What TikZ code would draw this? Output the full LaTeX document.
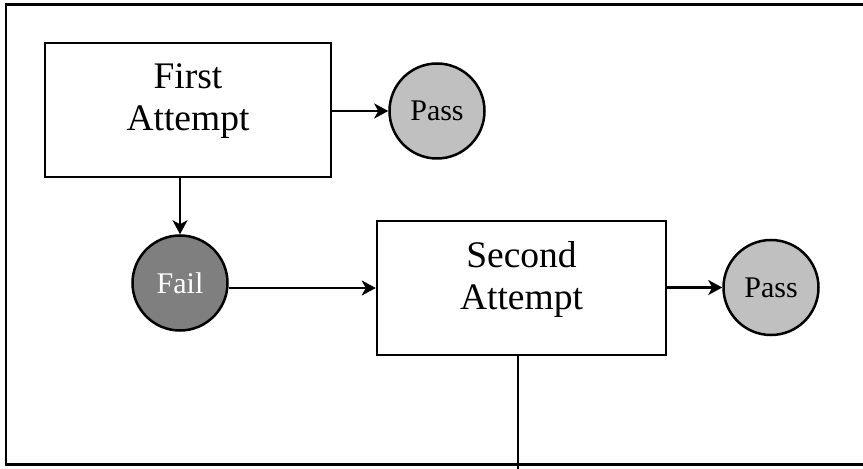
\documentclass[tikz,border=0pt]{standalone}
\usepackage{fontspec}
\setmainfont{Liberation Serif}
\usetikzlibrary{arrows.meta}
\definecolor{passgray}{HTML}{C0C0C0}
\definecolor{failgray}{HTML}{7F7F7F}
\tikzset{
  line/.style={line width=2.5pt, draw=black},
  arr/.style={line, -{Stealth[length=14pt,width=15pt,inset=4pt]}},
  attemptbox/.style={line, rectangle, fill=white, inner sep=0pt},
  boxtext/.style={align=center, font=\fontsize{37.5}{42}\selectfont, inner sep=0pt},
  passnode/.style={line, circle, fill=passgray, minimum size=95pt, inner sep=0pt, font=\fontsize{30}{34}\selectfont},
  failnode/.style={line, circle, fill=failgray, minimum size=95pt, inner sep=0pt, text=white, font=\fontsize{30}{34}\selectfont}
}
\begin{document}
\begin{tikzpicture}[x=1pt,y=1pt]
\useasboundingbox (0,0) rectangle (863,469);
% frame (open on the right)
\draw[line] (863,464.5) -- (6,464.5) -- (6,4.5) -- (863,4.5);
% nodes
\node[attemptbox, minimum width=286pt, minimum height=134pt] (first) at (188,359) {};
\node[boxtext] (firstlbl) at (188,368) {First\\Attempt};
\node[passnode] (pass1) at (437,358) {Pass};
\node[failnode] (fail) at (180,186) {Fail};
\node[attemptbox, minimum width=289pt, minimum height=134pt] (second) at (521.5,181) {};
\node[boxtext] (secondlbl) at (521.5,190) {Second\\Attempt};
\node[passnode] (pass2) at (771,181.5) {Pass};
\coordinate (bottomend) at (518,0);
% connectors
\draw[arr] (first.east |- pass1.west) -- (pass1.west);
\draw[arr] (fail.north |- first.south) -- (fail.north);
\draw[arr] (fail.east |- second.west) -- (second.west);
\draw[arr] (second.east |- pass2.west) -- (pass2.west);
\draw[line] (bottomend |- second.south) -- (bottomend);
\end{tikzpicture}
\end{document}
